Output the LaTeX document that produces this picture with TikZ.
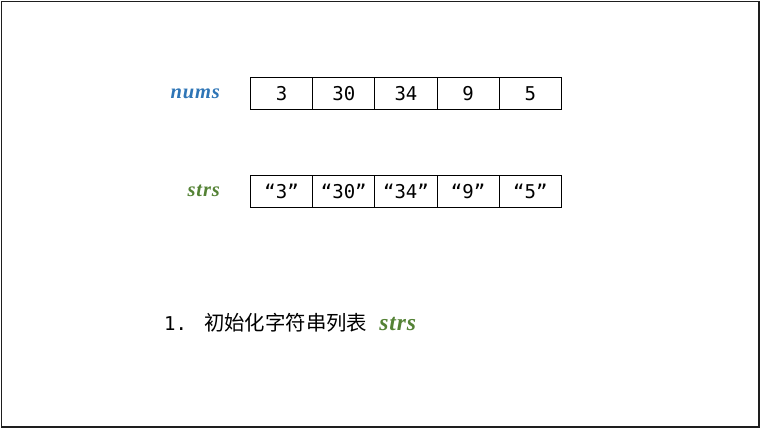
\documentclass[tikz,border=0pt]{standalone}
\usepackage{fontspec}
\setmonofont{DejaVu Sans Mono}
\newfontfamily\cjk{Noto Sans CJK SC}
\newfontfamily\lblfont[LetterSpace=4]{Liberation Serif}
\definecolor{numblue}{RGB}{46,117,182}
\definecolor{strgreen}{RGB}{84,130,53}
\definecolor{framegray}{RGB}{30,30,30}
\begin{document}
\begin{tikzpicture}[x=1pt,y=-1pt,
  cell/.style={draw=black,line width=0.9pt,minimum width=62.2pt,minimum height=32pt,inner sep=0pt,anchor=north west,font=\ttfamily\fontsize{19}{19}\selectfont},
  lbl/.style={anchor=east,font=\lblfont\bfseries\itshape\fontsize{20.5}{20.5}\selectfont,inner sep=0pt}]
\useasboundingbox (0,0) rectangle (762,430);
\draw[framegray,line width=1.6pt] (1.5,1.5) rectangle (759,427);
\node[lbl,text=numblue] (numslbl) at (220,94) {nums};
\foreach \v [count=\i from 0] in {3,30,34,9,5}
  \node[cell] (n\i) at (250+62.2*\i,77) {\v};
\node[lbl,text=strgreen] (strslbl) at (220,191) {strs};
\foreach \v [count=\i from 0] in {3,30,34,9,5}
  \node[cell] (s\i) at (250+62.2*\i,175) {“\v”};
\node[anchor=west,inner sep=0pt] (step1) at (164,323) {{\ttfamily\fontsize{19}{19}\selectfont 1.\hspace{17pt}}{\cjk\fontsize{20.4}{20.4}\selectfont 初始化字符串列表}\hspace{12pt}{\color{strgreen}\lblfont\bfseries\itshape\fontsize{23.5}{23.5}\selectfont strs}};
\end{tikzpicture}
\end{document}
